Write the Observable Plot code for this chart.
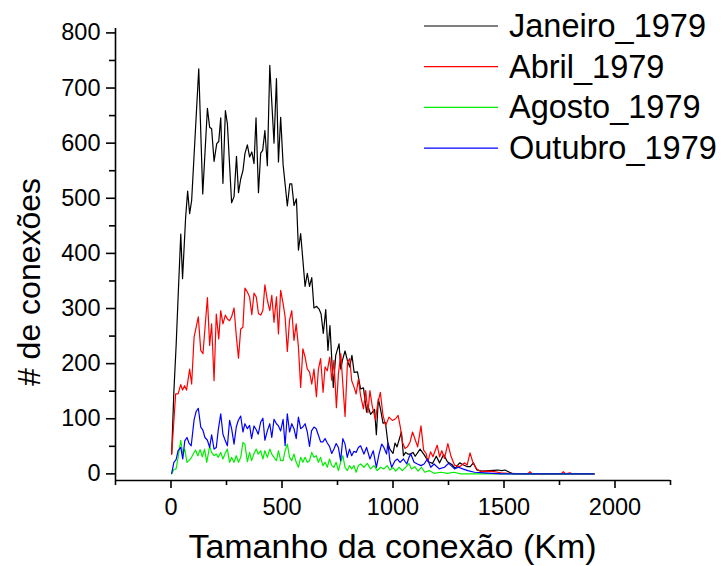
<!DOCTYPE html>
<html>
<head>
<meta charset="utf-8">
<script src="https://cdn.jsdelivr.net/npm/d3@7"></script>
<script src="https://cdn.jsdelivr.net/npm/@observablehq/plot@0.6"></script>
<style>
  html, body { margin: 0; padding: 0; background: #fff; }
  #chart { width: 723px; height: 566px; }
</style>
</head>
<body>
<div id="chart"></div>
<script>
// ---- data ----
const seriesNames = ["Janeiro_1979", "Abril_1979", "Agosto_1979", "Outubro_1979"];
const seriesColors = ["#000000", "#ff0000", "#00ee00", "#0000ff"];

const janeiro = [[3,36],[13,150],[23,232],[33,330],[44,435],[52,354],[66,466],[75,513],[84,472],[93,496],[125,735],[143,508],[164,663],[174,629],[183,626],[194,567],[206,599],[215,603],[224,646],[234,527],[245,659],[254,635],[273,492],[284,503],[295,576],[304,510],[314,535],[324,550],[333,581],[344,597],[354,575],[364,584],[374,563],[383,646],[394,510],[404,582],[413,587],[423,623],[434,559],[445,741],[464,600],[475,717],[484,566],[494,647],[505,561],[514,526],[524,486],[535,526],[544,526],[554,487],[565,499],[574,406],[584,436],[604,340],[614,364],[624,340],[634,356],[644,301],[656,304],[667,299],[676,290],[686,255],[697,298],[707,224],[716,269],[731,157],[742,215],[757,236],[765,190],[772,206],[784,223],[795,205],[805,194],[815,215],[825,184],[840,185],[854,154],[867,156],[881,112],[886,125],[899,108],[917,117],[925,71],[934,136],[944,117],[955,92],[966,93],[977,56],[986,45],[1000,37],[1009,56],[1018,49],[1038,76],[1047,33],[1057,39],[1067,36],[1078,36],[1090,39],[1100,32],[1122,45],[1140,35],[1160,22],[1178,19],[1195,32],[1210,20],[1228,35],[1245,22],[1265,17],[1280,10],[1300,20],[1318,16],[1335,13],[1348,13],[1362,20],[1378,7],[1400,5],[1435,6],[1470,7],[1490,6],[1504,7],[1520,4],[1540,0],[1905,0]];

const abril = [[3,36],[21,145],[32,145],[44,162],[52,152],[61,160],[70,152],[84,190],[93,163],[104,248],[123,285],[134,224],[144,218],[164,320],[174,233],[183,272],[194,169],[204,290],[215,245],[224,296],[234,272],[245,288],[254,281],[264,278],[273,285],[284,301],[294,251],[304,210],[314,263],[324,266],[333,337],[344,330],[354,321],[364,289],[374,328],[384,321],[394,291],[404,288],[414,297],[423,343],[434,315],[445,296],[454,324],[464,275],[475,321],[484,254],[494,333],[505,309],[514,285],[524,222],[534,279],[544,296],[554,242],[564,272],[574,230],[584,157],[594,227],[604,212],[614,190],[624,185],[634,163],[644,190],[655,140],[664,190],[674,209],[685,148],[694,194],[704,187],[715,212],[724,170],[734,206],[745,120],[754,181],[765,218],[775,157],[784,104],[795,203],[805,209],[814,169],[825,157],[834,145],[844,172],[854,142],[867,118],[877,151],[887,111],[896,151],[906,124],[921,98],[931,127],[943,148],[955,106],[967,88],[982,103],[997,97],[1012,100],[1023,106],[1033,85],[1042,58],[1054,46],[1065,49],[1077,58],[1088,76],[1101,61],[1111,49],[1126,87],[1138,43],[1149,37],[1157,22],[1169,40],[1180,31],[1199,52],[1210,31],[1220,42],[1232,28],[1247,55],[1262,31],[1277,16],[1300,13],[1322,20],[1334,16],[1347,38],[1359,22],[1374,10],[1396,4],[1426,5],[1456,4],[1486,2],[1516,1],[1606,0],[1617,4],[1628,0],[1757,0],[1767,4],[1778,0],[1797,2],[1808,0],[1906,0]];

const agosto = [[3,0],[13,8],[23,9],[32,30],[44,61],[53,36],[62,45],[72,21],[81,24],[91,29],[101,37],[111,43],[121,33],[131,44],[141,31],[151,45],[161,21],[174,50],[183,39],[194,33],[204,36],[213,30],[224,39],[234,27],[243,36],[254,45],[264,21],[273,30],[284,21],[294,33],[304,21],[314,30],[324,57],[333,54],[344,22],[354,39],[363,24],[374,37],[384,45],[393,36],[404,42],[414,27],[423,42],[434,30],[445,45],[454,36],[464,30],[475,24],[484,42],[494,24],[505,24],[514,42],[524,54],[534,30],[544,24],[554,36],[564,21],[574,12],[584,30],[594,21],[604,30],[614,21],[624,24],[634,39],[644,30],[654,33],[664,21],[674,30],[684,15],[694,21],[704,12],[714,27],[724,15],[734,12],[744,21],[754,6],[764,21],[774,33],[784,12],[794,6],[804,15],[814,9],[824,15],[834,3],[844,15],[854,18],[869,12],[884,19],[899,9],[914,15],[929,6],[944,12],[959,9],[974,15],[986,7],[1001,11],[1012,5],[1027,12],[1042,6],[1057,12],[1072,19],[1083,9],[1098,13],[1113,5],[1128,12],[1143,3],[1163,6],[1185,1],[1215,3],[1245,1],[1275,3],[1305,0],[1906,0]];

const outubro = [[3,1],[13,21],[23,26],[32,42],[44,48],[53,27],[62,60],[72,66],[81,56],[91,51],[104,98],[113,113],[123,119],[134,85],[143,80],[153,66],[164,61],[174,48],[183,71],[194,45],[204,48],[213,80],[224,109],[234,72],[243,62],[254,51],[264,97],[273,82],[284,54],[294,85],[303,97],[314,105],[324,76],[333,91],[344,82],[354,88],[363,64],[374,87],[384,80],[393,72],[404,94],[414,101],[423,61],[434,78],[445,91],[454,66],[464,99],[475,91],[484,87],[494,78],[505,99],[514,51],[524,109],[534,76],[544,91],[554,82],[564,64],[574,103],[584,82],[594,85],[604,91],[614,76],[624,50],[633,78],[644,85],[654,82],[664,70],[674,58],[684,58],[694,64],[704,56],[714,50],[724,37],[734,45],[744,55],[754,48],[764,24],[774,64],[784,54],[794,30],[804,45],[814,33],[824,41],[834,39],[844,48],[854,51],[869,36],[881,48],[896,27],[911,42],[925,12],[937,36],[949,54],[959,48],[971,36],[977,56],[986,24],[994,12],[1009,24],[1020,27],[1032,21],[1047,27],[1062,18],[1072,30],[1080,36],[1095,21],[1110,18],[1126,15],[1140,18],[1155,27],[1170,12],[1185,18],[1208,9],[1232,12],[1250,19],[1262,15],[1277,9],[1295,12],[1314,9],[1337,6],[1367,3],[1412,2],[1487,0],[1906,0]];

const xMajorTicks = [0, 500, 1000, 1500, 2000];
const xMinorTicks = [-250, 250, 750, 1250, 1750, 2250];
const yMajorTicks = [0, 100, 200, 300, 400, 500, 600, 700, 800];
const yMinorTicks = [50, 150, 250, 350, 450, 550, 650, 750];

const xTitle = "Tamanho da conexão (Km)";
const yTitle = "# de conexões";

// ---- build ----
const allSeries = [janeiro, abril, agosto, outubro];
const toRows = (arr) => arr.map(([x, y]) => ({x, y}));

const FONT = "'Liberation Sans', Arial, Helvetica, sans-serif";

const svg = Plot.plot({
  width: 723,
  height: 566,
  marginLeft: 115,
  marginRight: 53,
  marginTop: 28,
  marginBottom: 86,
  style: {fontFamily: FONT, background: "#fff", color: "#000", overflow: "visible"},
  x: {domain: [-250, 2250], label: null},
  y: {domain: [-12, 808], label: null},
  marks: [
    ...allSeries.map((s, i) => Plot.line(toRows(s), {x: "x", y: "y", stroke: seriesColors[i], strokeWidth: 1.2})),
    Plot.ruleY([-12], {stroke: "#000", strokeWidth: 1.6}),
    Plot.ruleX([-250], {stroke: "#000", strokeWidth: 1.6}),
    Plot.axisX(xMajorTicks, {tickSize: 8, tickPadding: 10, strokeWidth: 1.6, label: null, tickFormat: d => String(d)}),
    Plot.axisX(xMinorTicks, {tickSize: 5, tickPadding: 0, strokeWidth: 1.6, label: null, tickFormat: () => ""}),
    Plot.axisY(yMajorTicks, {tickSize: 9, tickPadding: 6, strokeWidth: 1.6, label: null, tickFormat: d => String(d)}),
    Plot.axisY(yMinorTicks, {tickSize: 6, tickPadding: 0, strokeWidth: 1.6, label: null, tickFormat: () => ""})
  ]
});

// enlarge every tick label drawn by Plot
d3.select(svg).selectAll("text")
  .attr("font-size", 23.5).style("font-size", "23.5px")
  .style("font-family", FONT);
d3.select(svg).selectAll("g")
  .filter(function() { return this.querySelector("text"); })
  .attr("font-size", 23.5);

// titles and legend added as real SVG text
const g = d3.select(svg).append("g")
  .attr("font-family", FONT).attr("fill", "#000").attr("text-anchor", "start");
g.append("text")
  .attr("x", 392.5).attr("y", 558)
  .attr("text-anchor", "middle")
  .attr("font-size", 34)
  .text(xTitle);
g.append("text")
  .attr("transform", "translate(40,282) rotate(-90)")
  .attr("text-anchor", "middle")
  .attr("font-size", 32)
  .text(yTitle);

const leg = g.append("g").attr("text-anchor", "start");
seriesNames.forEach((name, i) => {
  const cy = 26 + i * 40.7;
  leg.append("line")
    .attr("x1", 424).attr("x2", 498).attr("y1", cy).attr("y2", cy)
    .attr("stroke", seriesColors[i]).attr("stroke-width", 1.2);
  leg.append("text")
    .attr("x", 509).attr("y", cy + 11)
    .attr("text-anchor", "start")
    .attr("font-size", 32.5)
    .text(name);
});

document.getElementById("chart").appendChild(svg);
</script>
</body>
</html>
